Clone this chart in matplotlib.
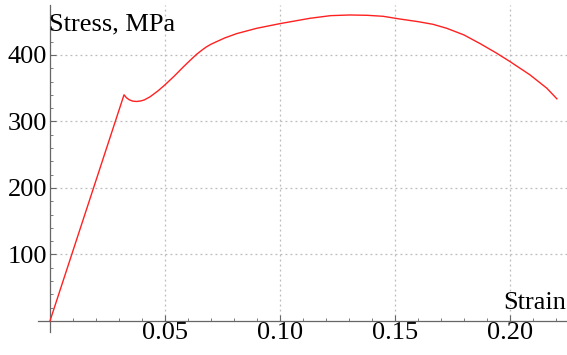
import matplotlib
matplotlib.use("Agg")
import matplotlib.pyplot as plt
import numpy as np

strain = [0.0, 0.0322, 0.0333, 0.0345, 0.036, 0.0377, 0.0395, 0.041, 0.0435, 0.047,
          0.050, 0.054, 0.058, 0.061, 0.0638, 0.066, 0.068, 0.070, 0.0725, 0.076,
          0.0812, 0.0899, 0.100, 0.113, 0.122, 0.1304, 0.138, 0.1449, 0.152, 0.160,
          0.1665, 0.1725, 0.180, 0.187, 0.194, 0.200, 0.2087, 0.216, 0.2204]
stress = [0, 340, 335.5, 332.5, 330.5, 330, 330.8, 332.3, 337, 346,
          355, 368, 382, 392, 401, 407, 412, 416, 420, 425.5,
          432, 440, 447, 455, 459, 460, 459.5, 458, 454, 450,
          446, 440, 430, 417, 403, 390, 370, 350, 334]

x_ticks = [0.05, 0.10, 0.15, 0.20]
x_tick_labels = ["0.05", "0.10", "0.15", "0.20"]
y_ticks = [100, 200, 300, 400]
y_tick_labels = ["100", "200", "300", "400"]
x_label = "Strain"
y_label = "Stress, MPa"

W, H = 567, 355
fig = plt.figure(figsize=(W / 100, H / 100), dpi=100)
left_px, right_px, top_px, bottom_px = 38, 567, 5, 332
ax = fig.add_axes([left_px / W, (H - bottom_px) / H, (right_px - left_px) / W, (bottom_px - top_px) / H])
xlim = (-0.0052, 0.2248)
ylim = (-16.5, 475)
ax.set_xlim(*xlim)
ax.set_ylim(*ylim)

serif = "Liberation Serif"
fs = 19
axis_color = "#666666"
grid_color = "#bbbbbb"

# grid only in positive quadrant
for xv in x_ticks:
    ax.plot([xv, xv], [0, ylim[1]], color=grid_color, lw=0.9, ls=(0, (1.5, 2.5)), zorder=1)
for yv in y_ticks:
    ax.plot([0, xlim[1]], [yv, yv], color=grid_color, lw=0.9, ls=(0, (1.5, 2.5)), zorder=1)

ax.plot(strain, stress, color="#ff2020", lw=1.0, zorder=3, solid_joinstyle="round")

for s in ["top", "right"]:
    ax.spines[s].set_visible(False)
ax.spines["left"].set_position(("data", 0))
ax.spines["bottom"].set_position(("data", 0))
for s in ["left", "bottom"]:
    ax.spines[s].set_color(axis_color)
    ax.spines[s].set_linewidth(0.9)

ax.set_xticks(x_ticks)
ax.set_xticklabels(x_tick_labels)
ax.set_yticks(y_ticks)
ax.set_yticklabels(y_tick_labels)
ax.set_xticks(np.arange(0.01, 0.225, 0.01), minor=True)
ax.set_yticks(np.arange(20, 475, 20), minor=True)
ax.tick_params(which="major", direction="in", length=4, width=0.8, color=axis_color)
ax.tick_params(which="minor", direction="in", length=2.5, width=0.6, color=axis_color)
ax.tick_params(axis="x", which="major", pad=1)
ax.tick_params(axis="y", which="major", pad=2)
for lab in ax.get_xticklabels() + ax.get_yticklabels():
    lab.set_fontfamily(serif)
    lab.set_fontsize(fs)
    lab.set_color("black")

fig.text(49 / W, (H - 30) / H, y_label, fontfamily=serif, fontsize=fs, ha="left", va="baseline")
fig.text(566 / W, (H - 309) / H, x_label, fontfamily=serif, fontsize=fs, ha="right", va="baseline")

fig.savefig("out.png", dpi=100)
